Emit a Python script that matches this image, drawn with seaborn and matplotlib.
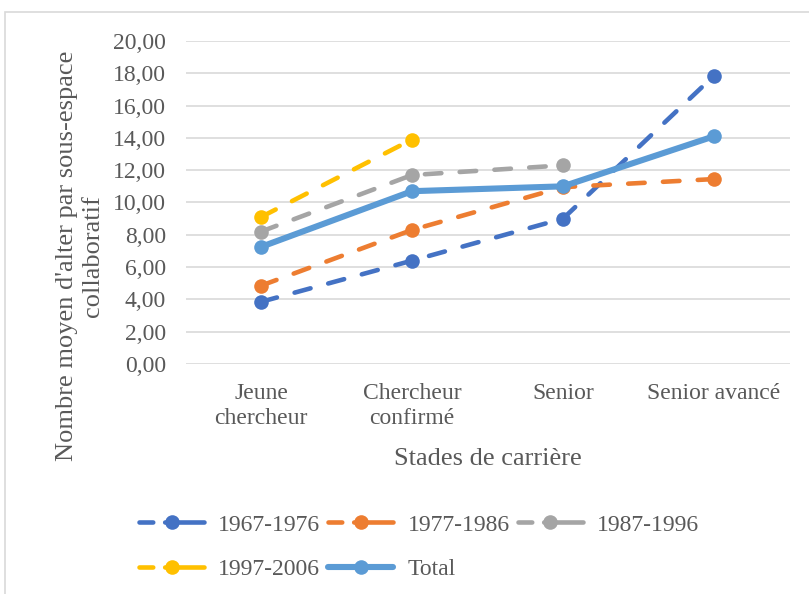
import matplotlib
matplotlib.use("Agg")
import matplotlib.pyplot as plt
import seaborn as sns
import pandas as pd
import numpy as np
from matplotlib.patches import Rectangle
from matplotlib.lines import Line2D

# Career stages on the x axis
stades = ["Jeune\nchercheur", "Chercheur\nconfirmé", "Senior", "Senior avancé"]

# Mean number of alters per collaborative sub-space, by cohort
c1967_1976 = [3.85, 6.40, 9.00, 17.85]
c1977_1986 = [4.85, 8.30, 10.95, 11.45]
c1987_1996 = [8.20, 11.70, 12.30]
c1997_2006 = [9.10, 13.90]
total = [7.25, 10.70, 11.00, 14.10]

series = [
    ("1967-1976", c1967_1976, "#4472C4", True),
    ("1977-1986", c1977_1986, "#ED7D31", True),
    ("1987-1996", c1987_1996, "#A5A5A5", True),
    ("1997-2006", c1997_2006, "#FFC000", True),
    ("Total", total, "#5B9BD5", False),
]

sns.set_theme(style="white")
plt.rcParams["font.family"] = ["Liberation Serif", "DejaVu Serif"]
text_color = "#595959"

fig = plt.figure(figsize=(8.09, 5.94), dpi=100)
ax = fig.add_axes([0.2293, 0.3872, 0.7466, 0.5438])

# Outer chart border
fig.patches.append(Rectangle((5 / 809, -0.1), 2, 1 - 12 / 594 + 0.1,
                             transform=fig.transFigure, fill=False,
                             edgecolor="#d9d9d9", linewidth=1.2))

handles = {}
for name, vals, color, dashed in series:
    df = pd.DataFrame({"x": np.arange(len(vals)), "y": vals})
    lw = 3.3 if dashed else 4.4
    sns.lineplot(data=df, x="x", y="y", ax=ax, color=color, linewidth=lw,
                 marker="o", markersize=10.5, markeredgewidth=0,
                 dash_capstyle="round", solid_capstyle="round",
                 linestyle=(0, (3.6, 4.0)) if dashed else "-",
                 label=name, legend=False, zorder=3)
    # legend key: short dash, gap, then a stroke through the marker
    handles[name] = Line2D([], [], color=color, linewidth=lw, marker="o",
                           markersize=10.5, markeredgewidth=0,
                           dash_capstyle="round", solid_capstyle="round",
                           linestyle=(0, (3.0, 2.6, 12, 1)) if dashed else "-")

ax.set_xlim(-0.5, 3.5)
ax.set_ylim(0, 20)
ticks = np.arange(0, 20.1, 2)
ax.set_yticks(ticks)
ax.set_yticklabels([f"{v:.2f}".replace(".", ",") for v in ticks])
ax.set_xticks(range(4))
ax.set_xticklabels(stades, linespacing=1.2)
ax.yaxis.grid(True, color="#d9d9d9", linewidth=1.2, zorder=0)
ax.xaxis.grid(False)
for s in ax.spines.values():
    s.set_visible(False)
ax.tick_params(axis="both", length=0, labelsize=17, labelcolor=text_color)
ax.tick_params(axis="x", pad=14)
ax.tick_params(axis="y", pad=14)

ax.set_xlabel("Stades de carrière", fontsize=19, color=text_color)
ax.xaxis.label.set_va("center")
ax.xaxis.set_label_coords(0.5, -0.294)
ax.set_ylabel("Nombre moyen d'alter par sous-espace\ncollaboratif",
              fontsize=19, color=text_color, linespacing=1.2)
ax.yaxis.label.set_va("center")
ax.yaxis.set_label_coords(-0.175, 0.334)

order = ["1967-1976", "1997-2006", "1977-1986", "Total", "1987-1996"]
leg = fig.legend([handles[n] for n in order], order, ncol=3,
                 loc="upper left", bbox_to_anchor=(0.172, 0.1346),
                 frameon=False, fontsize=17, handlelength=2.75,
                 handletextpad=0.6, columnspacing=0.34, labelspacing=0.96,
                 borderaxespad=0, borderpad=0)
for t in leg.get_texts():
    t.set_color(text_color)

fig.savefig("out.png", dpi=100)
